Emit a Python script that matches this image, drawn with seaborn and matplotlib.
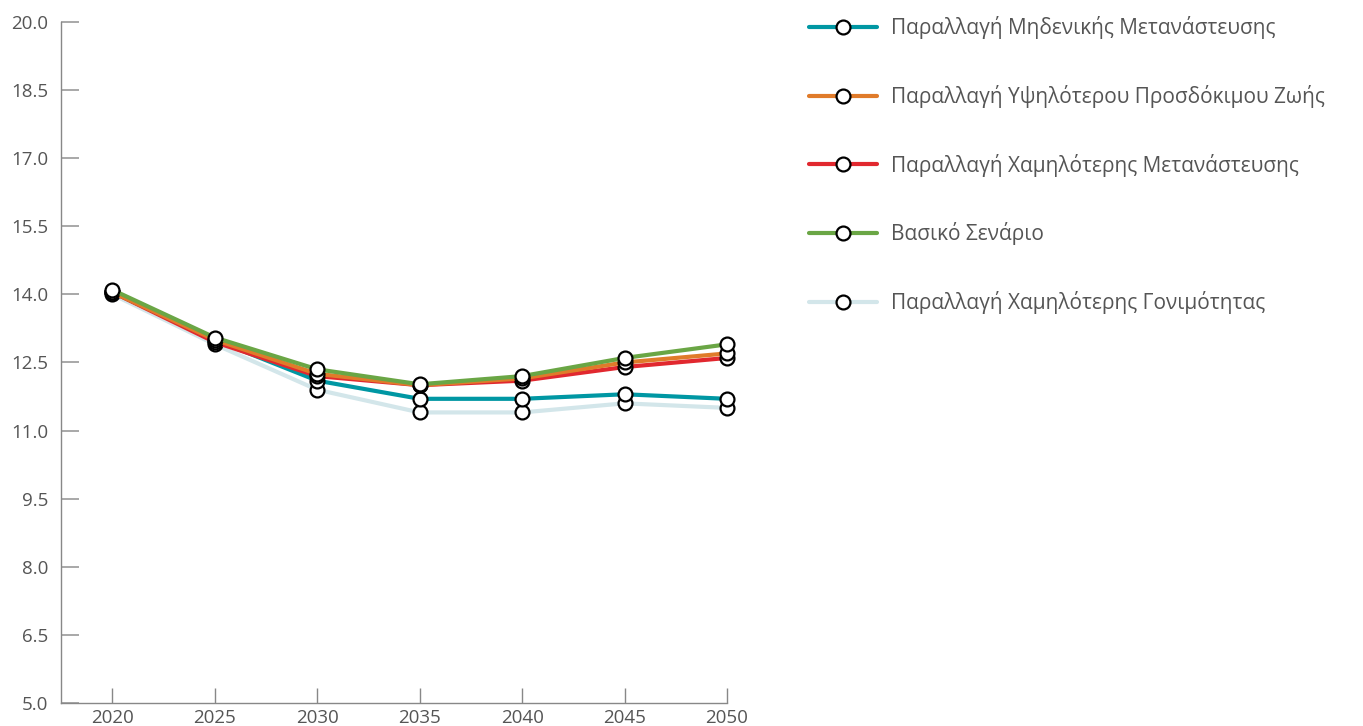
import matplotlib
matplotlib.use("Agg")
import matplotlib.pyplot as plt
import seaborn as sns
import pandas as pd

# data
years = [2020, 2025, 2030, 2035, 2040, 2045, 2050]
zero_migration = [14.05, 13.0, 12.1, 11.7, 11.7, 11.8, 11.7]
higher_life = [14.05, 13.0, 12.25, 12.0, 12.15, 12.5, 12.7]
lower_migration = [14.05, 12.95, 12.2, 12.0, 12.1, 12.4, 12.6]
base = [14.1, 13.05, 12.35, 12.02, 12.2, 12.6, 12.9]
lower_fertility = [14.0, 12.9, 11.9, 11.4, 11.4, 11.6, 11.5]

labels = ["Παραλλαγή Μηδενικής Μετανάστευσης",
          "Παραλλαγή Υψηλότερου Προσδόκιμου Ζωής",
          "Παραλλαγή Χαμηλότερης Μετανάστευσης",
          "Βασικό Σενάριο",
          "Παραλλαγή Χαμηλότερης Γονιμότητας"]
colors = ["#0097a3", "#e07b2a", "#e1282f", "#6aa645", "#d3e6ea"]
series = [zero_migration, higher_life, lower_migration, base, lower_fertility]

sns.set_theme(style="white")
plt.rcParams['font.family'] = ['Open Sans', 'DejaVu Sans']

fig = plt.figure(figsize=(13.63, 7.26), dpi=100)
ax = fig.add_axes([0.0448, 0.0317, 0.4886, 0.938])

# draw order: light blue at the bottom, green on top
draw_order = [4, 0, 2, 1, 3]
for z, i in enumerate(draw_order):
    df = pd.DataFrame({"year": years, "value": series[i]})
    sns.lineplot(data=df, x="year", y="value", ax=ax, color=colors[i], linewidth=3,
                 marker="o", markersize=10, markerfacecolor="white",
                 markeredgecolor="black", markeredgewidth=1.6, label=labels[i],
                 zorder=3 + z, clip_on=False)

ax.set_xlim(2017.5, 2050)
ax.set_ylim(5, 20)
ax.set_xticks(years)
ax.set_yticks([5.0, 6.5, 8.0, 9.5, 11.0, 12.5, 14.0, 15.5, 17.0, 18.5, 20.0])
ax.set_yticklabels(["5.0", "6.5", "8.0", "9.5", "11.0", "12.5", "14.0", "15.5", "17.0", "18.5", "20.0"])
ax.set_xlabel("")
ax.set_ylabel("")
for s in ["top", "right"]:
    ax.spines[s].set_visible(False)
for s in ["left", "bottom"]:
    ax.spines[s].set_color("#888888")
    ax.spines[s].set_linewidth(1.0)
ax.tick_params(axis="y", direction="in", length=13, width=1.2, color="#999999",
               labelsize=13.5, labelcolor="#555555", pad=9, left=True)
ax.tick_params(axis="x", direction="in", length=11, width=1.0, color="#888888",
               labelsize=13.5, labelcolor="#555555", pad=4, bottom=True)

handles, lbls = ax.get_legend_handles_labels()
lookup = dict(zip(lbls, handles))
ax.legend_.remove()
fig.legend([lookup[l] for l in labels], labels, loc="upper left",
           bbox_to_anchor=(0.5877, 0.989), frameon=False, fontsize=15,
           labelcolor="#555555", handlelength=3.27, handletextpad=0.67,
           labelspacing=2.19, borderaxespad=0)

fig.savefig("out.png", dpi=100)
